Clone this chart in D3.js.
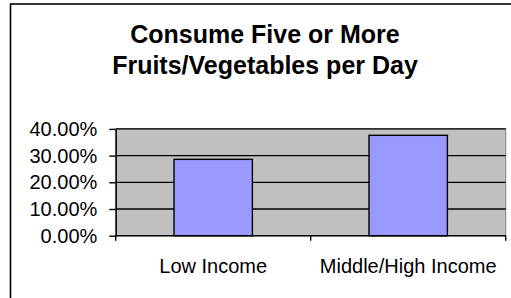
<html>
  <head>
    <script src="https://cdn.jsdelivr.net/npm/d3@7"></script>
    <style>
      body { margin: 0; background: #fff; }
      text { font-family: Arial, "Liberation Sans", sans-serif; fill: #000; }
    </style>
  </head>
  <body>
    <svg id=chart width=511 height=298></svg>

    <script>
      var titleLines = ["Consume Five or More", "Fruits/Vegetables per Day"];
      var categories = ["Low Income", "Middle/High Income"];
      var values = [0.286, 0.376];
      var yTicks = [0, 0.1, 0.2, 0.3, 0.4];

      var svg = d3.select("#chart");
      var plot = {left: 115.7, right: 505.7, top: 128.9, bottom: 235.7};

      // chart area border (runs off the picture at right and bottom)
      svg.append("rect")
        .attr("x", 10.5).attr("y", 4)
        .attr("width", 600).attr("height", 400)
        .attr("fill", "none")
        .attr("stroke", "#000")
        .attr("stroke-width", 1.6);

      svg.selectAll(".title")
        .data(titleLines)
        .enter().append("text")
        .attr("class", "title")
        .attr("x", 265)
        .attr("y", function(d, i) { return 42.5 + i * 31; })
        .attr("text-anchor", "middle")
        .style("font-size", "25px")
        .style("font-weight", "bold")
        .text(function(d) { return d; });

      var x = d3.scaleBand()
        .domain(categories)
        .range([plot.left, plot.right])
        .paddingInner(0.598)
        .paddingOuter(0.299);

      var y = d3.scaleLinear()
        .domain([0, 0.4])
        .range([plot.bottom, plot.top]);

      // plot area
      svg.append("rect")
        .attr("x", plot.left).attr("y", plot.top)
        .attr("width", plot.right - plot.left)
        .attr("height", plot.bottom - plot.top)
        .attr("fill", "#c0c0c0")
        .attr("stroke", "#808080")
        .attr("stroke-width", 1);

      svg.selectAll(".grid")
        .data(yTicks.filter(function(d) { return d > 0; }))
        .enter().append("line")
        .attr("class", "grid")
        .attr("x1", plot.left).attr("x2", plot.right)
        .attr("y1", function(d) { return y(d); })
        .attr("y2", function(d) { return y(d); })
        .attr("stroke", "#000")
        .attr("stroke-width", 1.3);

      svg.selectAll(".bar")
        .data(values)
        .enter().append("rect")
        .attr("class", "bar")
        .attr("x", function(d, i) { return x(categories[i]); })
        .attr("y", function(d) { return y(d); })
        .attr("width", x.bandwidth())
        .attr("height", function(d) { return y(0) - y(d); })
        .attr("fill", "#9999ff")
        .attr("stroke", "#000")
        .attr("stroke-width", 1.4);

      // y axis
      var yAxis = svg.append("g")
        .attr("transform", "translate(" + plot.left + ",0)")
        .call(d3.axisLeft(y)
          .tickValues(yTicks)
          .tickFormat(d3.format(".2%"))
          .tickSize(6.4)
          .tickSizeOuter(0)
          .tickPadding(12));
      yAxis.selectAll("path, line").attr("stroke", "#000").attr("stroke-width", 1.4);
      yAxis.selectAll("text")
        .style("font-size", "20px")
        .style("font-family", "Arial, 'Liberation Sans', sans-serif")
        .attr("fill", "#000");

      // x axis: ticks sit on the category boundaries
      var bounds = categories.map(function(c) { return x(c) + x.bandwidth() / 2 - x.step() / 2; });
      bounds.push(plot.right);

      svg.append("line")
        .attr("x1", plot.left).attr("x2", plot.right)
        .attr("y1", plot.bottom).attr("y2", plot.bottom)
        .attr("stroke", "#000").attr("stroke-width", 1.4);

      svg.selectAll(".xtick")
        .data(bounds)
        .enter().append("line")
        .attr("class", "xtick")
        .attr("x1", function(d) { return d; })
        .attr("x2", function(d) { return d; })
        .attr("y1", plot.bottom).attr("y2", plot.bottom + 5)
        .attr("stroke", "#000").attr("stroke-width", 1.4);

      svg.selectAll(".xlabel")
        .data(categories)
        .enter().append("text")
        .attr("class", "xlabel")
        .attr("x", function(d) { return x(d) + x.bandwidth() / 2; })
        .attr("y", 272.5)
        .attr("text-anchor", "middle")
        .style("font-size", "20px")
        .text(function(d) { return d; });
    </script>
  </body>
</html>
